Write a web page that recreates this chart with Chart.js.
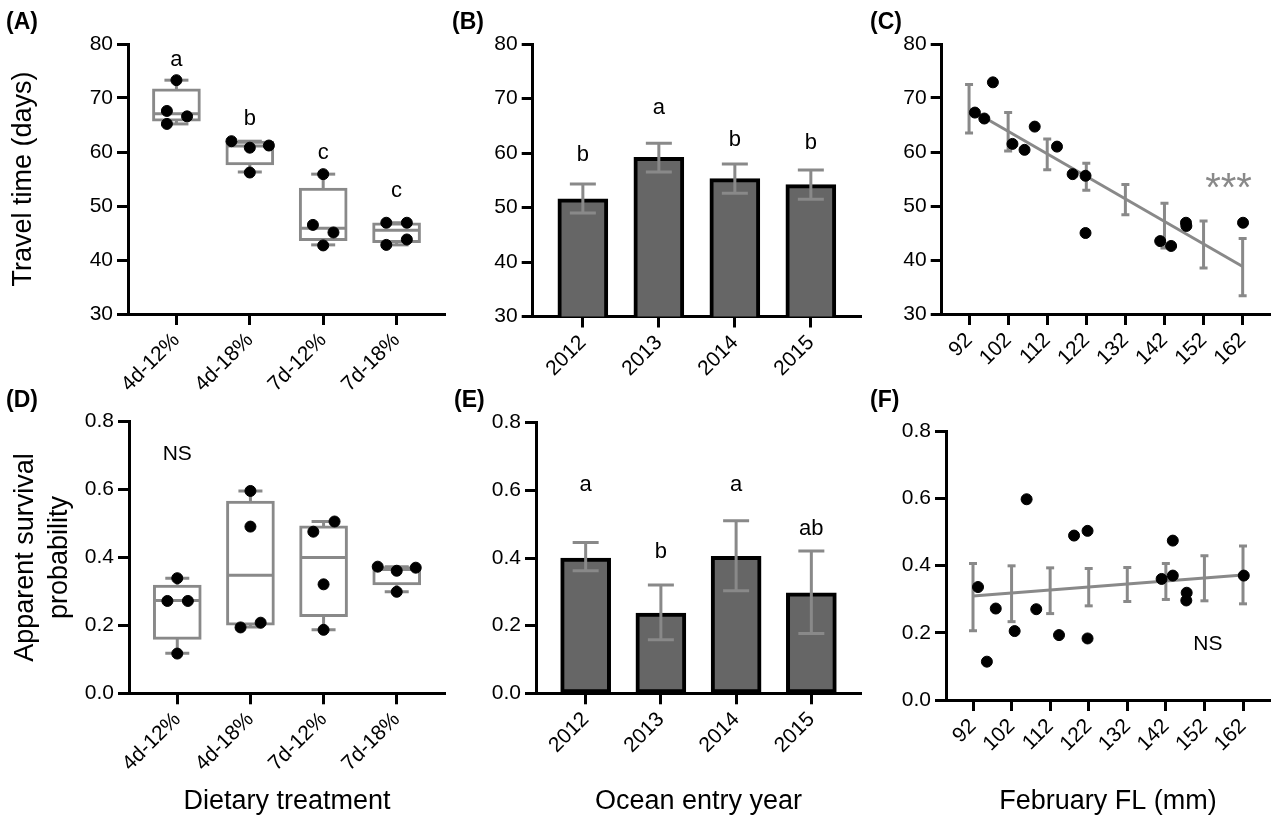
<!DOCTYPE html>
<html>
<head>
<meta charset="utf-8">
<title>Travel time and apparent survival</title>
<script src="https://cdn.jsdelivr.net/npm/chart.js@4.4.1/dist/chart.umd.min.js"></script>
<style>
    html, body { margin: 0; padding: 0; background: #fff; }
    #figure { position: relative; width: 1277px; height: 825px; overflow: hidden;
              font-family: "Liberation Sans", Arial, sans-serif; }
    #figure canvas { position: absolute; }
    .tag { position: absolute; font-weight: bold; font-size: 23px; line-height: 23px; color: #000; }
</style>
</head>
<body>
<div id="figure">
    <canvas id="chartA" width="470" height="400" style="left:0;top:0"></canvas>
    <canvas id="chartB" width="457" height="400" style="left:420px;top:0"></canvas>
    <canvas id="chartC" width="417" height="400" style="left:860px;top:0"></canvas>
    <canvas id="chartD" width="470" height="440" style="left:0;top:385px"></canvas>
    <canvas id="chartE" width="457" height="440" style="left:420px;top:385px"></canvas>
    <canvas id="chartF" width="417" height="440" style="left:860px;top:385px"></canvas>
    <div class="tag" style="left:6px;top:10px">(A)</div>
    <div class="tag" style="left:452px;top:10px">(B)</div>
    <div class="tag" style="left:870px;top:10px">(C)</div>
    <div class="tag" style="left:6px;top:388px">(D)</div>
    <div class="tag" style="left:454px;top:388px">(E)</div>
    <div class="tag" style="left:870px;top:388px">(F)</div>
</div>
<script>
var diets = ['4d-12%', '4d-18%', '7d-12%', '7d-18%'];
var years = ['2012', '2013', '2014', '2015'];
var flTicks = [92, 102, 112, 122, 132, 142, 152, 162];

// (A) travel time by diet
var travelMin = [65.2, 56.3, 42.8, 42.8];
var travelQ1 = [65.7, 57.6, 43.6, 43.2];
var travelMedian = [67.1, 61.1, 45.9, 45.5];
var travelQ3 = [71.7, 62.0, 53.3, 46.9];
var travelMax = [73.3, 62.0, 55.9, 46.9];
var travelDots = [[73.3, 67.6, 66.6, 65.2], [62.0, 60.8, 61.2, 56.2], [55.9, 46.5, 45.1, 42.7], [46.9, 46.9, 42.8, 43.8]];
var travelJitter = [[0, -0.13, 0.145, -0.13], [-0.25, 0, 0.26, 0], [0, -0.14, 0.14, 0], [-0.14, 0.14, -0.14, 0.14]];
var travelDietLetters = ['a', 'b', 'c', 'c'];
var travelDietLetterY = [77.0, 66.2, 59.8, 52.7];

// (B) travel time by year
var travelYearMean = [51.6, 59.2, 55.3, 54.2];
var travelYearLow = [49.0, 56.5, 52.6, 51.5];
var travelYearHigh = [54.3, 61.8, 58.0, 56.9];
var travelYearLetters = ['b', 'a', 'b', 'b'];
var travelYearLetterY = [59.7, 68.3, 62.4, 61.9];

// (C) travel time against February fork length
var travelFlX = [93.5, 95.9, 98.1, 103.1, 106.2, 108.8, 114.5, 118.5, 121.8, 121.8, 140.9, 143.7, 147.5, 147.6, 162.1];
var travelFlY = [67.3, 66.2, 72.9, 61.5, 60.4, 64.7, 61.0, 55.9, 55.6, 45.0, 43.5, 42.6, 46.9, 46.3, 46.9];
var travelFitLow = [63.5, 60.2, 56.7, 52.9, 48.4, 42.2, 38.5, 33.4];
var travelFitHigh = [72.5, 67.3, 62.4, 57.9, 54.0, 50.5, 47.2, 44.0];
var travelFitEnds = [68.0, 38.8];

// (D) survival by diet
var survMin = [0.118, 0.195, 0.187, 0.299];
var survQ1 = [0.159, 0.201, 0.226, 0.319];
var survMedian = [0.273, 0.348, 0.400, 0.365];
var survQ3 = [0.319, 0.566, 0.493, 0.373];
var survMax = [0.339, 0.596, 0.506, 0.373];
var survDots = [[0.339, 0.272, 0.272, 0.117], [0.596, 0.491, 0.194, 0.208], [0.476, 0.506, 0.321, 0.187], [0.373, 0.361, 0.370, 0.299]];
var survJitter = [[0, -0.135, 0.145, 0], [0, 0, -0.135, 0.14], [-0.14, 0.15, 0, 0], [-0.26, 0, 0.26, 0]];

// (E) survival by year
var survYearMean = [0.400, 0.237, 0.405, 0.297];
var survYearLow = [0.362, 0.158, 0.303, 0.177];
var survYearHigh = [0.446, 0.320, 0.510, 0.421];
var survYearLetters = ['a', 'b', 'a', 'ab'];
var survYearLetterY = [0.617, 0.417, 0.617, 0.486];

// (F) survival against February fork length
var survFlX = [93.3, 95.6, 97.9, 102.8, 105.9, 108.4, 114.3, 118.2, 121.7, 121.7, 140.9, 143.8, 143.8, 147.4, 147.3, 162.2];
var survFlY = [0.336, 0.114, 0.272, 0.205, 0.597, 0.270, 0.193, 0.489, 0.503, 0.183, 0.360, 0.474, 0.370, 0.319, 0.296, 0.370];
var survFitLow = [0.206, 0.233, 0.257, 0.280, 0.293, 0.299, 0.295, 0.286];
var survFitHigh = [0.406, 0.399, 0.393, 0.391, 0.394, 0.406, 0.429, 0.458];
var survFitEnds = [0.309, 0.372];

var GRAY = '#898989';
var BAR = '#666666';
Chart.defaults.font.family = '"Liberation Sans", Arial, sans-serif';
Chart.defaults.color = '#000';

// texts placed in data units
var notesPlugin = {
    id: 'notes',
    afterDatasetsDraw: function(chart, args, opts){
        var ctx = chart.ctx;
        var xs = chart.scales.x, ys = chart.scales.y;
        (opts.items || []).forEach(function(n){
            ctx.save();
            ctx.font = (n.size || 22) + 'px ' + Chart.defaults.font.family;
            ctx.fillStyle = n.color || '#000';
            ctx.textAlign = 'center';
            ctx.textBaseline = 'middle';
            ctx.fillText(n.text, xs.getPixelForValue(n.x), ys.getPixelForValue(n.y));
            ctx.restore();
        });
    }
};

function lineAxis(){
    return {
        border: {display: true, color: '#000', width: 3},
        grid: {display: true, offset: false, drawOnChartArea: false, drawTicks: true,
               tickLength: 11, tickWidth: 3, tickColor: '#000'}
    };
}

function axisTitle(text){
    if (!text) return {display: false};
    return {display: true, text: text, color: '#000', font: {size: 27, lineHeight: 1.25}, padding: {top: 0, bottom: 0}};
}

function valueAxis(min, max, step, digits, geo, title){
    var a = lineAxis();
    a.type = 'linear';
    a.min = min;
    a.max = max;
    a.ticks = {stepSize: step, color: '#000', font: {size: 21}, padding: 4,
        callback: function(v){ return v.toFixed(digits); }};
    a.title = axisTitle(title);
    a.afterFit = function(s){ s.width = geo.yw; };
    return a;
}

function groupAxis(labels, geo, title){
    var a = lineAxis();
    a.type = 'linear';
    a.min = 0.34;
    a.max = 4.66;
    a.offset = false;
    a.ticks = {color: '#000', font: {size: 21}, padding: 3, minRotation: 45, maxRotation: 45, autoSkip: false,
        callback: function(v){ return labels[v - 1]; }};
    a.afterBuildTicks = function(s){
        s.ticks = labels.map(function(l, i){ return {value: i + 1}; });
    };
    a.title = axisTitle(title);
    a.afterFit = function(s){ s.height = geo.xh; };
    return a;
}

function lengthAxis(geo, title){
    var a = lineAxis();
    a.type = 'linear';
    a.min = 85;
    a.max = 169;
    a.offset = false;
    a.ticks = {color: '#000', font: {size: 21}, padding: 3, minRotation: 45, maxRotation: 45, autoSkip: false};
    a.afterBuildTicks = function(s){
        s.ticks = flTicks.map(function(v){ return {value: v}; });
    };
    a.title = axisTitle(title);
    a.afterFit = function(s){ s.height = geo.xh; };
    return a;
}

function errorBar(x, lo, hi, cap, order){
    return {
        type: 'line',
        data: [{x: x, y: lo}, {x: x, y: hi}],
        borderColor: GRAY,
        borderWidth: 3,
        pointStyle: 'line',
        pointRadius: cap,
        pointHoverRadius: cap,
        pointBorderColor: GRAY,
        pointBorderWidth: 3,
        order: order
    };
}

function boxPlotSets(mins, q1s, meds, q3s, maxs, dots, jitter){
    var sets = [];
    mins.forEach(function(lo, i){
        sets.push(errorBar(i + 1, lo, maxs[i], 12, 4));
    });
    sets.push({
        type: 'bar',
        data: q1s.map(function(q, i){ return {x: i + 1, y: [q, q3s[i]]}; }),
        backgroundColor: '#fff',
        borderColor: GRAY,
        borderWidth: 3,
        borderSkipped: false,
        barThickness: 48,
        order: 3
    });
    sets.push({
        type: 'scatter',
        data: meds.map(function(m, i){ return {x: i + 1, y: m}; }),
        pointStyle: 'line',
        pointRadius: 22,
        pointHoverRadius: 22,
        borderColor: GRAY,
        pointBorderWidth: 3,
        order: 2
    });
    var pts = [];
    dots.forEach(function(group, i){
        group.forEach(function(v, j){ pts.push({x: i + 1 + jitter[i][j], y: v}); });
    });
    sets.push(dotSet(pts));
    return sets;
}

function barSets(means, lows, highs){
    var sets = [{
        type: 'bar',
        data: means.map(function(m, i){ return {x: i + 1, y: m}; }),
        backgroundColor: BAR,
        borderColor: '#000',
        borderWidth: 4,
        borderSkipped: false,
        barThickness: 50,
        order: 2
    }];
    lows.forEach(function(lo, i){
        sets.push(errorBar(i + 1, lo, highs[i], 13, 1));
    });
    return sets;
}

function dotSet(pts){
    return {
        type: 'scatter',
        data: pts,
        pointRadius: 5.5,
        pointHoverRadius: 5.5,
        backgroundColor: '#000',
        borderColor: '#000',
        order: 1
    };
}

function fitSets(xs, ys, lows, highs, ends){
    var sets = [{
        type: 'line',
        data: [{x: flTicks[0], y: ends[0]}, {x: flTicks[flTicks.length - 1], y: ends[1]}],
        borderColor: GRAY,
        borderWidth: 3,
        pointRadius: 0,
        order: 3
    }];
    lows.forEach(function(lo, i){
        sets.push(errorBar(flTicks[i], lo, highs[i], 4, 2));
    });
    sets.push(dotSet(xs.map(function(x, i){ return {x: x, y: ys[i]}; })));
    return sets;
}

function letterNotes(letters, ys){
    return letters.map(function(t, i){ return {text: t, x: i + 1, y: ys[i]}; });
}

function drawPanel(id, geo, xAxis, yAxis, datasets, notes){
    var canvas = document.getElementById(id);
    return new Chart(canvas.getContext('2d'), {
        type: 'scatter',
        data: {datasets: datasets},
        plugins: [notesPlugin],
        options: {
            responsive: false,
            animation: false,
            events: [],
            layout: {padding: {
                left: geo.left - geo.yw,
                top: geo.top,
                right: canvas.width - geo.right,
                bottom: canvas.height - geo.bottom - geo.xh
            }},
            scales: {x: xAxis, y: yAxis},
            plugins: {
                legend: {display: false},
                tooltip: {enabled: false},
                notes: {items: notes}
            }
        }
    });
}

var geoA = {left: 128, top: 44, right: 458, bottom: 314, yw: 121, xh: 86};
var geoB = {left: 112.7, top: 44, right: 446.7, bottom: 316.5, yw: 60, xh: 83.5};
var geoC = {left: 81.7, top: 44, right: 412, bottom: 314, yw: 60, xh: 86};
var geoD = {left: 129, top: 36.7, right: 461.7, bottom: 308.3, yw: 120, xh: 125.3};
var geoE = {left: 116, top: 37.7, right: 448, bottom: 308.3, yw: 60, xh: 125.3};
var geoF = {left: 86, top: 46, right: 415, bottom: 315, yw: 60, xh: 118.6};

drawPanel('chartA', geoA,
    groupAxis(diets, geoA, null),
    valueAxis(30, 80, 10, 0, geoA, 'Travel time (days)'),
    boxPlotSets(travelMin, travelQ1, travelMedian, travelQ3, travelMax, travelDots, travelJitter),
    letterNotes(travelDietLetters, travelDietLetterY));

drawPanel('chartB', geoB,
    groupAxis(years, geoB, null),
    valueAxis(30, 80, 10, 0, geoB, null),
    barSets(travelYearMean, travelYearLow, travelYearHigh),
    letterNotes(travelYearLetters, travelYearLetterY));

drawPanel('chartC', geoC,
    lengthAxis(geoC, null),
    valueAxis(30, 80, 10, 0, geoC, null),
    fitSets(travelFlX, travelFlY, travelFitLow, travelFitHigh, travelFitEnds),
    [{text: '***', x: 158.4, y: 52.9, size: 40, color: GRAY}]);

drawPanel('chartD', geoD,
    groupAxis(diets, geoD, 'Dietary treatment'),
    valueAxis(0, 0.8, 0.2, 1, geoD, ['Apparent survival', 'probability']),
    boxPlotSets(survMin, survQ1, survMedian, survQ3, survMax, survDots, survJitter),
    [{text: 'NS', x: 1, y: 0.705, size: 21}]);

drawPanel('chartE', geoE,
    groupAxis(years, geoE, 'Ocean entry year'),
    valueAxis(0, 0.8, 0.2, 1, geoE, null),
    barSets(survYearMean, survYearLow, survYearHigh),
    letterNotes(survYearLetters, survYearLetterY));

drawPanel('chartF', geoF,
    lengthAxis(geoF, 'February FL (mm)'),
    valueAxis(0, 0.8, 0.2, 1, geoF, null),
    fitSets(survFlX, survFlY, survFitLow, survFitHigh, survFitEnds),
    [{text: 'NS', x: 152.9, y: 0.167, size: 21}]);
</script>
</body>
</html>
